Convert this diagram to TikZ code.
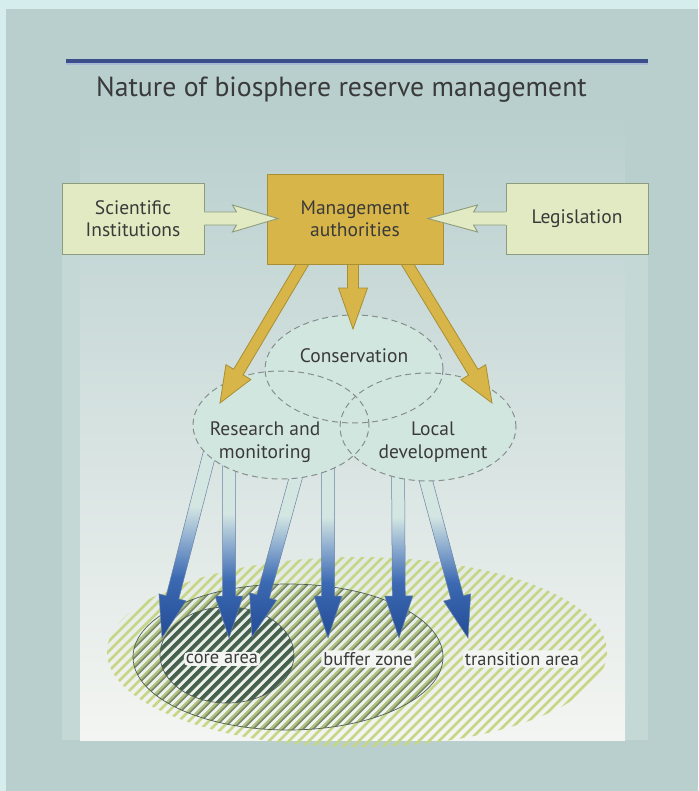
\documentclass[tikz,border=0pt]{standalone}
\usepackage{fontspec}
\setmainfont{PT Sans}
\usetikzlibrary{calc}
\definecolor{outer}{HTML}{D6EDED}
\definecolor{panel}{HTML}{B8CFCE}
\definecolor{stripcol}{HTML}{C4D8D6}
\definecolor{innertop}{HTML}{B8CFCE}
\definecolor{innermid}{HTML}{DDE8E6}
\definecolor{innerbot}{HTML}{F3F5F2}
\definecolor{txt}{HTML}{3A3A3A}
\definecolor{boxfill}{HTML}{E1EAC2}
\definecolor{boxline}{HTML}{8E9C7E}
\definecolor{gold}{HTML}{D7B548}
\definecolor{goldline}{HTML}{A88F35}
\definecolor{ellfill}{HTML}{D2E6E0}
\definecolor{ellline}{HTML}{868F8C}
\definecolor{tstripe}{HTML}{C6D685}
\definecolor{bstripe}{HTML}{B2C27E}
\definecolor{bdarkline}{HTML}{77876A}
\definecolor{cstripe}{HTML}{45604F}
\definecolor{zoneline}{HTML}{4E5E55}
\definecolor{blight}{HTML}{D3E6E2}
\definecolor{bmid}{HTML}{8FAED0}
\definecolor{bblue}{HTML}{3B69B2}
\definecolor{bdark}{HTML}{244C96}
\definecolor{bline}{HTML}{6A84A3}
\definecolor{rulecol}{HTML}{3C4E8A}
\definecolor{rulelight}{HTML}{A9B8D6}
\pgfdeclareverticalshading{bluearr}{100bp}{color(0bp)=(bdark); color(25bp)=(bdark); color(40bp)=(bblue); color(50bp)=(bmid); color(58bp)=(blight); color(100bp)=(blight)}
\newcommand\fatarrow[6]{%
  \coordinate (fa-h) at ($(#2)!#5!(#1)$);
  \path[#6] ($(#1)!#3!90:(#2)$) -- ($(fa-h)!#3!90:(#2)$) -- ($(fa-h)!#4!90:(#2)$) -- (#2)
     -- ($(fa-h)!#4!-90:(#2)$) -- ($(fa-h)!#3!-90:(#2)$) -- ($(#1)!#3!-90:(#2)$) -- cycle;}
\tikzset{
  lbl/.style={font=\fontsize{19.5}{22.5}\selectfont, text=txt, align=center},
  lbox/.style={lbl, fill=boxfill, draw=boxline, line width=0.9pt, minimum width=142pt, minimum height=71pt, inner sep=0pt},
  mbox/.style={lbl, fill=gold, draw=goldline, line width=0.9pt, minimum width=176pt, minimum height=90pt, inner sep=0pt},
  hollowfill/.style={fill=boxfill},
  hollowline/.style={draw=boxline, line width=0.9pt, line join=miter},
  goldarrow/.style={fill=gold, draw=goldline, line width=0.8pt, line join=miter},
  bluearrow/.style={shade, shading=bluearr, draw=bline, line width=0.5pt, line join=miter},
  ellbg/.style={fill=ellfill},
  ellout/.style={draw=ellline, dash pattern=on 6pt off 4pt, line width=1pt},
  elltext/.style={lbl},
  tline/.style={tstripe, line width=2.8pt},
  bline/.style={bstripe, line width=3pt},
  bdline/.style={bdarkline, line width=1.6pt},
  cline/.style={cstripe, line width=3.4pt},
  zoneedge/.style={draw=zoneline, line width=0.7pt},
  zonelabel/.style={font=\fontsize{18.4}{21}\selectfont, text=txt, fill=innerbot, rounded corners=4pt, inner sep=2pt}
}
\begin{document}
\begin{tikzpicture}[x=1pt,y=-1pt]
\useasboundingbox (0,0) rectangle (698,791);
% background
\fill[outer] (0,0) rectangle (698,791);
\fill[panel] (6,9) rectangle (698,791);
\fill[stripcol] (62,183) rectangle (80,740);
\fill[stripcol] (625,183) rectangle (648,740);
\shade[top color=innertop, middle color=innermid, bottom color=innerbot] (80,110) rectangle (625,740);
% title
\draw[rulecol, line width=3.2pt] (66,61) -- (648,61);
\draw[rulelight, line width=1.5pt] (66,63.9) -- (648,63.9);
\node[anchor=base west, font=\fontsize{27.7}{32}\selectfont, text=txt, inner sep=0pt] (title) at (96,97) {Nature of biosphere reserve management};
% zones
\coordinate (trans) at (357,652);
\coordinate (buf) at (288,657);
\coordinate (core) at (227,655);
\begin{scope}
  \clip (trans) ellipse [x radius=250pt, y radius=95pt];
  \foreach \k in {0,...,55} \draw[tline] ({740+10*\k-760},760) -- ++(220,-220);
\end{scope}
\begin{scope}
  \clip (buf) ellipse [x radius=155pt, y radius=73pt];
  \foreach \k in {0,...,55} {\draw[bline] ({740+10*\k-760},760) -- ++(220,-220);
    \draw[bdline] ({742.2+10*\k-760},760) -- ++(220,-220);}
\end{scope}
\begin{scope}
  \clip (core) ellipse [x radius=67pt, y radius=48pt];
  \foreach \k in {0,...,55} \draw[cline] ({740+10*\k-760},760) -- ++(220,-220);
\end{scope}
\draw[zoneedge] (buf) ellipse [x radius=155pt, y radius=73pt];
\draw[zoneedge] (core) ellipse [x radius=67pt, y radius=48pt];
\node[zonelabel] (corel) at (222,659) {core area};
\node[zonelabel] (bufl) at (368,659) {buffer zone};
\node[zonelabel] (transl) at (522,659) {transition area};
% blue arrows
\coordinate (s1) at (213,440); \coordinate (t1) at (162,638);
\coordinate (s2) at (229,450); \coordinate (t2) at (229,638);
\coordinate (s3) at (302,455); \coordinate (t3) at (252,637);
\coordinate (s4) at (328,455); \coordinate (t4) at (328,638);
\coordinate (s5) at (398,455); \coordinate (t5) at (399,638);
\coordinate (s6) at (419,455); \coordinate (t6) at (468,638);
\foreach \i in {1,...,6} {\fatarrow{s\i}{t\i}{6.5pt}{14pt}{42pt}{bluearrow}}
% ellipses
\coordinate (cons) at (354,369);
\coordinate (res) at (281,425);
\coordinate (loc) at (428,427);
\fill[ellbg] (cons) ellipse [x radius=89pt, y radius=54pt];
\fill[ellbg] (res) ellipse [x radius=88pt, y radius=54pt];
\fill[ellbg] (loc) ellipse [x radius=88pt, y radius=54pt];
\draw[ellout] (cons) ellipse [x radius=89pt, y radius=54pt];
\draw[ellout] (res) ellipse [x radius=88pt, y radius=54pt];
\draw[ellout] (loc) ellipse [x radius=88pt, y radius=54pt];
\node[elltext] (constext) at (354,356) {Conservation};
\node[elltext] (restext) at (265,442) {Research and\\monitoring};
\node[elltext] (loctext) at (433,442) {Local\\development};
% gold arrows
\coordinate (g1s) at (308,255); \coordinate (g1t) at (220,403);
\coordinate (g2s) at (353,255); \coordinate (g2t) at (353,329);
\coordinate (g3s) at (402,255); \coordinate (g3t) at (492,403);
\fatarrow{g1s}{g1t}{5.5pt}{14.5pt}{36pt}{goldarrow}
\fatarrow{g2s}{g2t}{5.5pt}{14.5pt}{41pt}{goldarrow}
\fatarrow{g3s}{g3t}{5.5pt}{14.5pt}{36pt}{goldarrow}
% boxes
\node[mbox] (mgmt) at (355,219) {Management\\authorities};
\node[lbox] (sci) at (133,218.5) {Scientific\\Institutions};
\node[lbox] (leg) at (577,218.5) {Legislation};
% hollow arrows
\coordinate (h1) at (278,218.5);
\coordinate (h2) at (428,218.5);
\fill[hollowfill] ($(sci.east)+(-1.5,-6.5)$) -- ($(sci.east)+(32,-6.5)$) -- ($(sci.east)+(28,-13.5)$) -- (h1)
   -- ($(sci.east)+(28,13.5)$) -- ($(sci.east)+(32,6.5)$) -- ($(sci.east)+(-1.5,6.5)$) -- cycle;
\draw[hollowline] ($(sci.east)+(0,-6.5)$) -- ($(sci.east)+(32,-6.5)$) -- ($(sci.east)+(28,-13.5)$) -- (h1)
   -- ($(sci.east)+(28,13.5)$) -- ($(sci.east)+(32,6.5)$) -- ($(sci.east)+(0,6.5)$);
\fill[hollowfill] ($(leg.west)+(1.5,-6.5)$) -- ($(leg.west)+(-32,-6.5)$) -- ($(leg.west)+(-28,-13.5)$) -- (h2)
   -- ($(leg.west)+(-28,13.5)$) -- ($(leg.west)+(-32,6.5)$) -- ($(leg.west)+(1.5,6.5)$) -- cycle;
\draw[hollowline] ($(leg.west)+(0,-6.5)$) -- ($(leg.west)+(-32,-6.5)$) -- ($(leg.west)+(-28,-13.5)$) -- (h2)
   -- ($(leg.west)+(-28,13.5)$) -- ($(leg.west)+(-32,6.5)$) -- ($(leg.west)+(0,6.5)$);
\end{tikzpicture}
\end{document}
